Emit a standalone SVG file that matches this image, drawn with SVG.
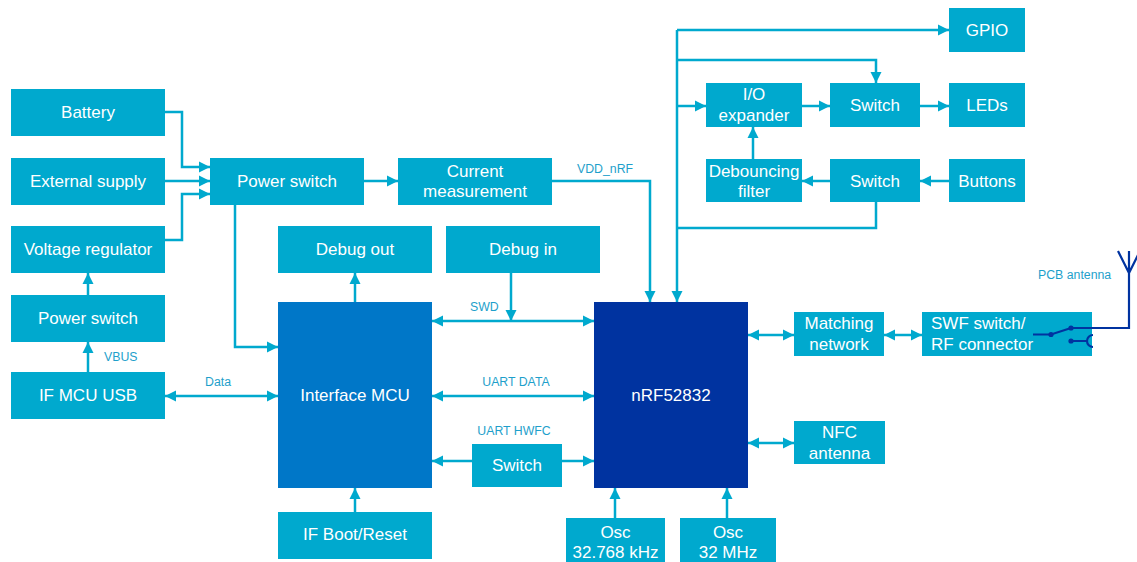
<svg xmlns="http://www.w3.org/2000/svg" width="1137" height="562" viewBox="0 0 1137 562">
<defs>
<style>
.b{fill:#00A9CE}
.mcu{fill:#0077C8}
.nrf{fill:#0033A0}
.t{font-family:"Liberation Sans",Arial,sans-serif;font-size:17px;fill:#ffffff;text-anchor:middle}
.ts{font-family:"Liberation Sans",Arial,sans-serif;font-size:17px;fill:#ffffff;text-anchor:start}
.l{font-family:"Liberation Sans",Arial,sans-serif;font-size:12.3px;fill:#1E9FCB}
.c{fill:none;stroke:#00A9CE;stroke-width:2.5}
.a{fill:none;stroke:#0033A0;stroke-width:2.2}
</style>
<marker id="ah" viewBox="0 0 10 10" refX="10" refY="5" markerWidth="11" markerHeight="12" markerUnits="userSpaceOnUse" orient="auto-start-reverse">
<path d="M0,0 L10,5 L0,10 z" fill="#00A9CE"/>
</marker>
</defs>
<rect width="1137" height="562" fill="#ffffff"/>

<g id="connectors">
<path class="c" d="M165,112 H182 V167 H210" marker-end="url(#ah)"/>
<path class="c" d="M165,181 H210" marker-end="url(#ah)"/>
<path class="c" d="M165,240 H182 V194 H210" marker-end="url(#ah)"/>
<path class="c" d="M88,295 V273" marker-end="url(#ah)"/>
<path class="c" d="M88,372 V342" marker-end="url(#ah)"/>
<path class="c" d="M165,396 H278" marker-start="url(#ah)" marker-end="url(#ah)"/>
<path class="c" d="M235,205 V347 H278" marker-end="url(#ah)"/>
<path class="c" d="M364,181 H398" marker-end="url(#ah)"/>
<path class="c" d="M552,181 H650 V302" marker-end="url(#ah)"/>
<path class="c" d="M355,302 V273" marker-end="url(#ah)"/>
<path class="c" d="M511,273 V321" marker-end="url(#ah)"/>
<path class="c" d="M432,321 H594" marker-start="url(#ah)" marker-end="url(#ah)"/>
<path class="c" d="M432,396 H594" marker-start="url(#ah)" marker-end="url(#ah)"/>
<path class="c" d="M472,461 H432" marker-end="url(#ah)"/>
<path class="c" d="M562,461 H594" marker-end="url(#ah)"/>
<path class="c" d="M355,512 V488" marker-end="url(#ah)"/>
<path class="c" d="M615,518 V488" marker-end="url(#ah)"/>
<path class="c" d="M727,518 V488" marker-end="url(#ah)"/>
<path class="c" d="M748,335 H794" marker-start="url(#ah)" marker-end="url(#ah)"/>
<path class="c" d="M884,335 H922" marker-start="url(#ah)" marker-end="url(#ah)"/>
<path class="c" d="M748,443 H794" marker-start="url(#ah)" marker-end="url(#ah)"/>
<path class="c" d="M677,30 V302" marker-end="url(#ah)"/>
<path class="c" d="M677,30 H949" marker-end="url(#ah)"/>
<path class="c" d="M677,60 H876 V83" marker-end="url(#ah)"/>
<path class="c" d="M677,106 H706" marker-end="url(#ah)"/>
<path class="c" d="M802,106 H830" marker-end="url(#ah)"/>
<path class="c" d="M920,106 H949" marker-end="url(#ah)"/>
<path class="c" d="M949,181 H920" marker-end="url(#ah)"/>
<path class="c" d="M830,181 H802" marker-end="url(#ah)"/>
<path class="c" d="M753,159 V127" marker-end="url(#ah)"/>
<path class="c" d="M876,202 V228 H677"/>
</g>

<g id="labels">
<text class="l" x="104" y="361">VBUS</text>
<text class="l" x="205" y="386">Data</text>
<text class="l" x="470" y="311">SWD</text>
<text class="l" x="577" y="173">VDD_nRF</text>
<text class="l" x="516" y="386" text-anchor="middle">UART DATA</text>
<text class="l" x="514" y="435" text-anchor="middle">UART HWFC</text>
<text class="l" x="1038" y="279">PCB antenna</text>
</g>

<g id="battery"><rect class="b" x="11" y="89" width="154" height="47"/><text class="t" x="88" y="118">Battery</text></g>
<g id="external-supply"><rect class="b" x="11" y="158" width="154" height="47"/><text class="t" x="88" y="187">External supply</text></g>
<g id="voltage-regulator"><rect class="b" x="11" y="226" width="154" height="47"/><text class="t" x="88" y="255">Voltage regulator</text></g>
<g id="power-switch-usb"><rect class="b" x="11" y="295" width="154" height="47"/><text class="t" x="88" y="324">Power switch</text></g>
<g id="if-mcu-usb"><rect class="b" x="11" y="372" width="154" height="47"/><text class="t" x="88" y="401">IF MCU USB</text></g>
<g id="power-switch"><rect class="b" x="210" y="158" width="154" height="47"/><text class="t" x="287" y="187">Power switch</text></g>
<g id="current-measurement"><rect class="b" x="398" y="158" width="154" height="47"/><text class="t" x="475" y="176.5">Current</text><text class="t" x="475" y="197">measurement</text></g>
<g id="debug-out"><rect class="b" x="278" y="226" width="154" height="47"/><text class="t" x="355" y="255">Debug out</text></g>
<g id="debug-in"><rect class="b" x="446" y="226" width="154" height="47"/><text class="t" x="523" y="255">Debug in</text></g>
<g id="interface-mcu"><rect class="mcu" x="278" y="302" width="154" height="186"/><text class="t" x="355" y="401">Interface MCU</text></g>
<g id="nrf52832"><rect class="nrf" x="594" y="302" width="154" height="186"/><text class="t" x="671" y="401">nRF52832</text></g>
<g id="uart-switch"><rect class="b" x="472" y="444" width="90" height="43"/><text class="t" x="517" y="471">Switch</text></g>
<g id="if-boot-reset"><rect class="b" x="278" y="512" width="154" height="47"/><text class="t" x="355" y="540">IF Boot/Reset</text></g>
<g id="osc-32k"><rect class="b" x="566" y="518" width="99" height="44"/><text class="t" x="615.5" y="537.5">Osc</text><text class="t" x="615.5" y="557.5">32.768 kHz</text></g>
<g id="osc-32m"><rect class="b" x="680" y="518" width="96" height="44"/><text class="t" x="728" y="537.5">Osc</text><text class="t" x="728" y="557.5">32 MHz</text></g>
<g id="matching-network"><rect class="b" x="794" y="312" width="90" height="44"/><text class="t" x="839" y="329">Matching</text><text class="t" x="839" y="350">network</text></g>
<g id="nfc-antenna"><rect class="b" x="794" y="421" width="91" height="43"/><text class="t" x="839.5" y="438">NFC</text><text class="t" x="839.5" y="459">antenna</text></g>
<g id="swf-switch">
<rect class="b" x="922" y="312" width="170" height="44"/>
<text class="ts" x="931" y="329">SWF switch/</text>
<text class="ts" x="931" y="350">RF connector</text>
<path class="a" d="M1033,334.5 L1051,334.5 L1071,328 M1087,341 H1071"/>
<path class="a" d="M1093,335 A6,6 0 0 0 1093,347"/>
<circle cx="1051" cy="334.5" r="2.6" fill="#0033A0"/>
<circle cx="1071" cy="328" r="2.6" fill="#0033A0"/>
<circle cx="1071" cy="341" r="2.6" fill="#0033A0"/>
</g>
<g id="pcb-antenna">
<path class="a" d="M1071,328 H1129 V251 M1118,251 L1129,273 L1140,251"/>
</g>
<g id="gpio"><rect class="b" x="949" y="8" width="76" height="44"/><text class="t" x="987" y="36">GPIO</text></g>
<g id="io-expander"><rect class="b" x="706" y="83" width="96" height="44"/><text class="t" x="754" y="100">I/O</text><text class="t" x="754" y="121">expander</text></g>
<g id="led-switch"><rect class="b" x="830" y="83" width="90" height="44"/><text class="t" x="875" y="111">Switch</text></g>
<g id="leds"><rect class="b" x="949" y="83" width="76" height="44"/><text class="t" x="987" y="111">LEDs</text></g>
<g id="debouncing-filter"><rect class="b" x="706" y="159" width="96" height="43"/><text class="t" x="754" y="176.5">Debouncing</text><text class="t" x="754" y="197">filter</text></g>
<g id="button-switch"><rect class="b" x="830" y="159" width="90" height="43"/><text class="t" x="875" y="186.5">Switch</text></g>
<g id="buttons"><rect class="b" x="949" y="159" width="76" height="43"/><text class="t" x="987" y="186.5">Buttons</text></g>
</svg>
